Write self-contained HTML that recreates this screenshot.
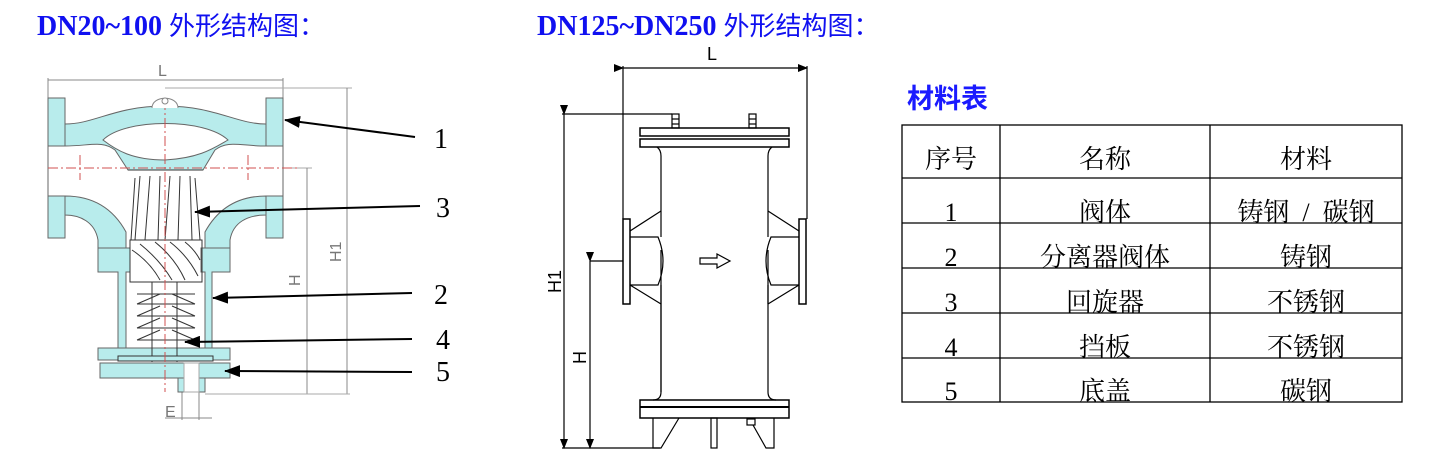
<!DOCTYPE html>
<html><head><meta charset="utf-8">
<style>
html,body{margin:0;padding:0;background:#fff;}
body{width:1430px;height:461px;position:relative;overflow:hidden;}
.t{position:absolute;color:#1010f0;font-weight:bold;font-family:"Liberation Serif","Noto Serif CJK SC",serif;font-size:28px;line-height:34px;white-space:nowrap;}
.t span{font-family:"Noto Sans CJK SC",sans-serif;font-weight:normal;font-size:26px;}
</style></head><body>
<div class="t" style="left:37px;top:8px;">DN20~100 <span>外形结构图：</span></div>
<div class="t" style="left:537px;top:8px;">DN125~DN250 <span>外形结构图：</span></div>
<svg width="1430" height="461" style="position:absolute;left:0;top:0" xmlns="http://www.w3.org/2000/svg">
<defs>
<marker id="ar" markerWidth="10" markerHeight="8" refX="9" refY="4" orient="auto" markerUnits="userSpaceOnUse"><path d="M0,0 L10,4 L0,8 Z" fill="#000"/></marker>
<marker id="ar2" markerWidth="16" markerHeight="12" refX="15" refY="6" orient="auto" markerUnits="userSpaceOnUse"><path d="M0,0 L16,6 L0,12 Z" fill="#000"/></marker>
</defs>
<g stroke="#666" stroke-width="1" fill="#b8ecec">
<line x1="48" y1="80" x2="283" y2="80" stroke="#888"/>
<line x1="48" y1="78" x2="48" y2="98" stroke="#888"/>
<line x1="283" y1="78" x2="283" y2="98" stroke="#888"/>
<line x1="165" y1="88" x2="352" y2="88" stroke="#aaa"/>
<line x1="347" y1="88" x2="347" y2="394" stroke="#888"/>
<line x1="283" y1="168" x2="312" y2="168" stroke="#aaa"/>
<line x1="307" y1="168" x2="307" y2="394" stroke="#888"/>
<line x1="205" y1="394" x2="350" y2="394" stroke="#aaa"/>
<line x1="182" y1="392" x2="182" y2="420" stroke="#888"/>
<line x1="199" y1="392" x2="199" y2="420" stroke="#888"/>
<line x1="165" y1="418" x2="212" y2="418" stroke="#888"/>
<rect x="48" y="98" width="17" height="48"/>
<rect x="266" y="98" width="17" height="48"/>
<rect x="48" y="196" width="17" height="42"/>
<rect x="266" y="196" width="17" height="42"/>
<line x1="48" y1="146" x2="48" y2="196"/>
<line x1="283" y1="146" x2="283" y2="196"/>
<path d="M65,124 C95,124 115,106 165,106 C215,106 236,124 266,124 V146 C240,146 228,140 215,150 L203,170 H128 L115,150 C102,140 90,146 65,146 Z"/>
<path d="M103,140 C125,118 205,118 228,140 C214,148 200,158 165,160 C132,160 116,150 103,140 Z" fill="#fff"/>
<path d="M65,196 C95,196 114,210 126,232 V248 H98 V240 C95,222 80,215 65,215 Z"/>
<path d="M266,196 C236,196 217,210 205,232 V248 H230 V240 C233,222 248,215 266,215 Z"/>
<path d="M98,248 H130 V272 H126 V348 H118 V272 H98 Z"/>
<path d="M230,248 H201 V272 H205 V348 H212 V272 H230 Z"/>
<path d="M98,348 H230 V360 H98 Z"/>
<rect x="100" y="363" width="130" height="15"/>
<rect x="178" y="378" width="27" height="14"/>
<rect x="184" y="363" width="15" height="29" fill="#fff" stroke="#aaa"/>
</g>
<g stroke="#333" stroke-width="1" fill="none">
<line x1="128" y1="170" x2="203" y2="170"/>
<path d="M135,178 L131,240 M140,176 L135,240 M150,176 L145,240 M160,176 L158,240 M170,176 L165,240 M180,176 L178,240 M190,176 L192,240 M195,178 L200,240"/>
<rect x="130" y="240" width="72" height="42"/>
<path d="M132,250 Q150,262 160,280 M140,244 Q160,260 172,280 M155,242 Q175,258 185,280 M170,242 Q188,256 198,276 M185,242 Q195,250 200,260"/>
<line x1="152" y1="282" x2="152" y2="362"/><line x1="177" y1="282" x2="177" y2="362"/>
<path d="M137,294 L195,294 M137,304 L160,294 M195,304 L172,294 M137,304 L195,304 M137,316 L160,306 M195,316 L172,306 M137,316 L195,316 M137,328 L160,318 M195,328 L172,318 M137,328 L195,328 M137,340 L160,330 M195,340 L172,330 M137,340 L195,340"/>
<rect x="118" y="356" width="95" height="5" fill="#b8ecec"/>
</g>
<g stroke="#d05050" stroke-width="1" stroke-dasharray="10,3,2,3" fill="none">
<line x1="48" y1="168" x2="300" y2="168"/>
<line x1="165" y1="100" x2="165" y2="392"/>
<line x1="80" y1="155" x2="80" y2="180"/><line x1="248" y1="155" x2="248" y2="180"/>
</g>
<path d="M152,108 C152,95 178,95 178,108" fill="#fff" stroke="#888"/>
<circle cx="165" cy="101" r="3" fill="#fff" stroke="#888"/>
<g font-family="Liberation Sans,sans-serif" font-size="16" fill="#777">
<text x="158" y="76">L</text>
<text transform="translate(300,286) rotate(-90)">H</text>
<text transform="translate(341,262) rotate(-90)">H1</text>
<text x="165" y="417">E</text>
</g>
<g stroke="#000" stroke-width="2">
<line x1="415" y1="137" x2="285" y2="120" marker-end="url(#ar2)"/>
<line x1="420" y1="206" x2="195" y2="212" marker-end="url(#ar2)"/>
<line x1="412" y1="293" x2="213" y2="298" marker-end="url(#ar2)"/>
<line x1="412" y1="339" x2="185" y2="342" marker-end="url(#ar2)"/>
<line x1="412" y1="372" x2="225" y2="371" marker-end="url(#ar2)"/>
</g>
<g font-family="Liberation Serif,serif" font-size="28" fill="#000">
<text x="434" y="148">1</text><text x="436" y="217">3</text><text x="434" y="304">2</text><text x="436" y="349">4</text><text x="436" y="381">5</text>
</g>
<g stroke="#000" stroke-width="1.2" fill="none">
<line x1="623" y1="68" x2="807" y2="68" marker-start="url(#ar)" marker-end="url(#ar)"/>
<line x1="623" y1="66" x2="623" y2="219"/><line x1="807" y1="66" x2="807" y2="219"/>
<line x1="562" y1="114" x2="672" y2="114"/>
<line x1="564" y1="114" x2="564" y2="448" marker-start="url(#ar)" marker-end="url(#ar)"/>
<line x1="590" y1="261" x2="623" y2="261"/>
<line x1="590" y1="261" x2="590" y2="448" marker-start="url(#ar)" marker-end="url(#ar)"/>
<line x1="562" y1="448" x2="660" y2="448"/>
<rect x="672" y="114" width="7" height="14"/><line x1="672" y1="119" x2="679" y2="119"/><line x1="672" y1="124" x2="679" y2="124"/>
<rect x="749" y="114" width="7" height="14"/><line x1="749" y1="119" x2="756" y2="119"/><line x1="749" y1="124" x2="756" y2="124"/>
<rect x="640" y="128" width="149" height="8" stroke-width="1.5"/>
<rect x="640" y="139" width="149" height="8" stroke-width="1.5"/>
<path d="M657,147 Q661,150 661,156 V211 M661,250 V392 Q661,400 653,400"/>
<path d="M772,147 Q768,150 768,156 V211 M768,250 V392 Q768,400 776,400"/>
<rect x="623" y="219" width="7" height="85" stroke-width="1.5"/>
<rect x="799" y="219" width="7" height="85" stroke-width="1.5"/>
<path d="M630,231 L661,211 M630,237 H658 Q668,261 658,285 H630 M630,285 L661,304 M661,304 V392"/>
<path d="M799,231 L768,211 M799,237 H771 Q761,261 771,285 H799 M799,285 L768,304"/>
<path d="M661,211 V237 M661,285 V304 M768,211 V237 M768,285 V304"/>
<path d="M700,258 H717 V254 L730,261 L717,268 V264 H700 Z"/>
<rect x="640" y="400" width="149" height="18" stroke-width="1.5"/>
<line x1="640" y1="407" x2="789" y2="407" stroke-width="2"/>
<path d="M653,418 V448 H661 L679,418"/>
<rect x="711" y="418" width="6" height="30"/>
<rect x="747" y="419" width="8" height="6"/>
<path d="M753,425 L766,448 H774 V418"/>
</g>
<g font-family="Liberation Sans,sans-serif" font-size="18" fill="#000">
<text x="707" y="60">L</text>
<text transform="translate(561,293) rotate(-90)">H1</text>
<text transform="translate(586,364) rotate(-90)">H</text>
</g>
<text x="907" y="108" font-family="Noto Sans CJK SC,sans-serif" font-size="27" font-weight="bold" fill="#1a1aff">材料表</text>
<g stroke="#000" stroke-width="1.3">
<rect x="902" y="125" width="500" height="277" fill="none"/>
<line x1="1000" y1="125" x2="1000" y2="402"/><line x1="1210" y1="125" x2="1210" y2="402"/>
<line x1="902" y1="178" x2="1402" y2="178"/><line x1="902" y1="223" x2="1402" y2="223"/>
<line x1="902" y1="268" x2="1402" y2="268"/><line x1="902" y1="313" x2="1402" y2="313"/>
<line x1="902" y1="358" x2="1402" y2="358"/>
</g>
<g font-family="Liberation Serif,Noto Serif CJK SC,serif" font-size="26" fill="#000" text-anchor="middle">
<text x="951" y="168">序号</text><text x="1105" y="168">名称</text><text x="1306" y="168">材料</text>
<text x="951" y="221">1</text><text x="1105" y="221">阀体</text><text x="1306" y="221" xml:space="preserve">铸钢  /  碳钢</text>
<text x="951" y="266">2</text><text x="1105" y="266">分离器阀体</text><text x="1306" y="266">铸钢</text>
<text x="951" y="311">3</text><text x="1105" y="311">回旋器</text><text x="1306" y="311">不锈钢</text>
<text x="951" y="356">4</text><text x="1105" y="356">挡板</text><text x="1306" y="356">不锈钢</text>
<text x="951" y="400">5</text><text x="1105" y="400">底盖</text><text x="1306" y="400">碳钢</text>
</g>
</svg>
</body></html>
